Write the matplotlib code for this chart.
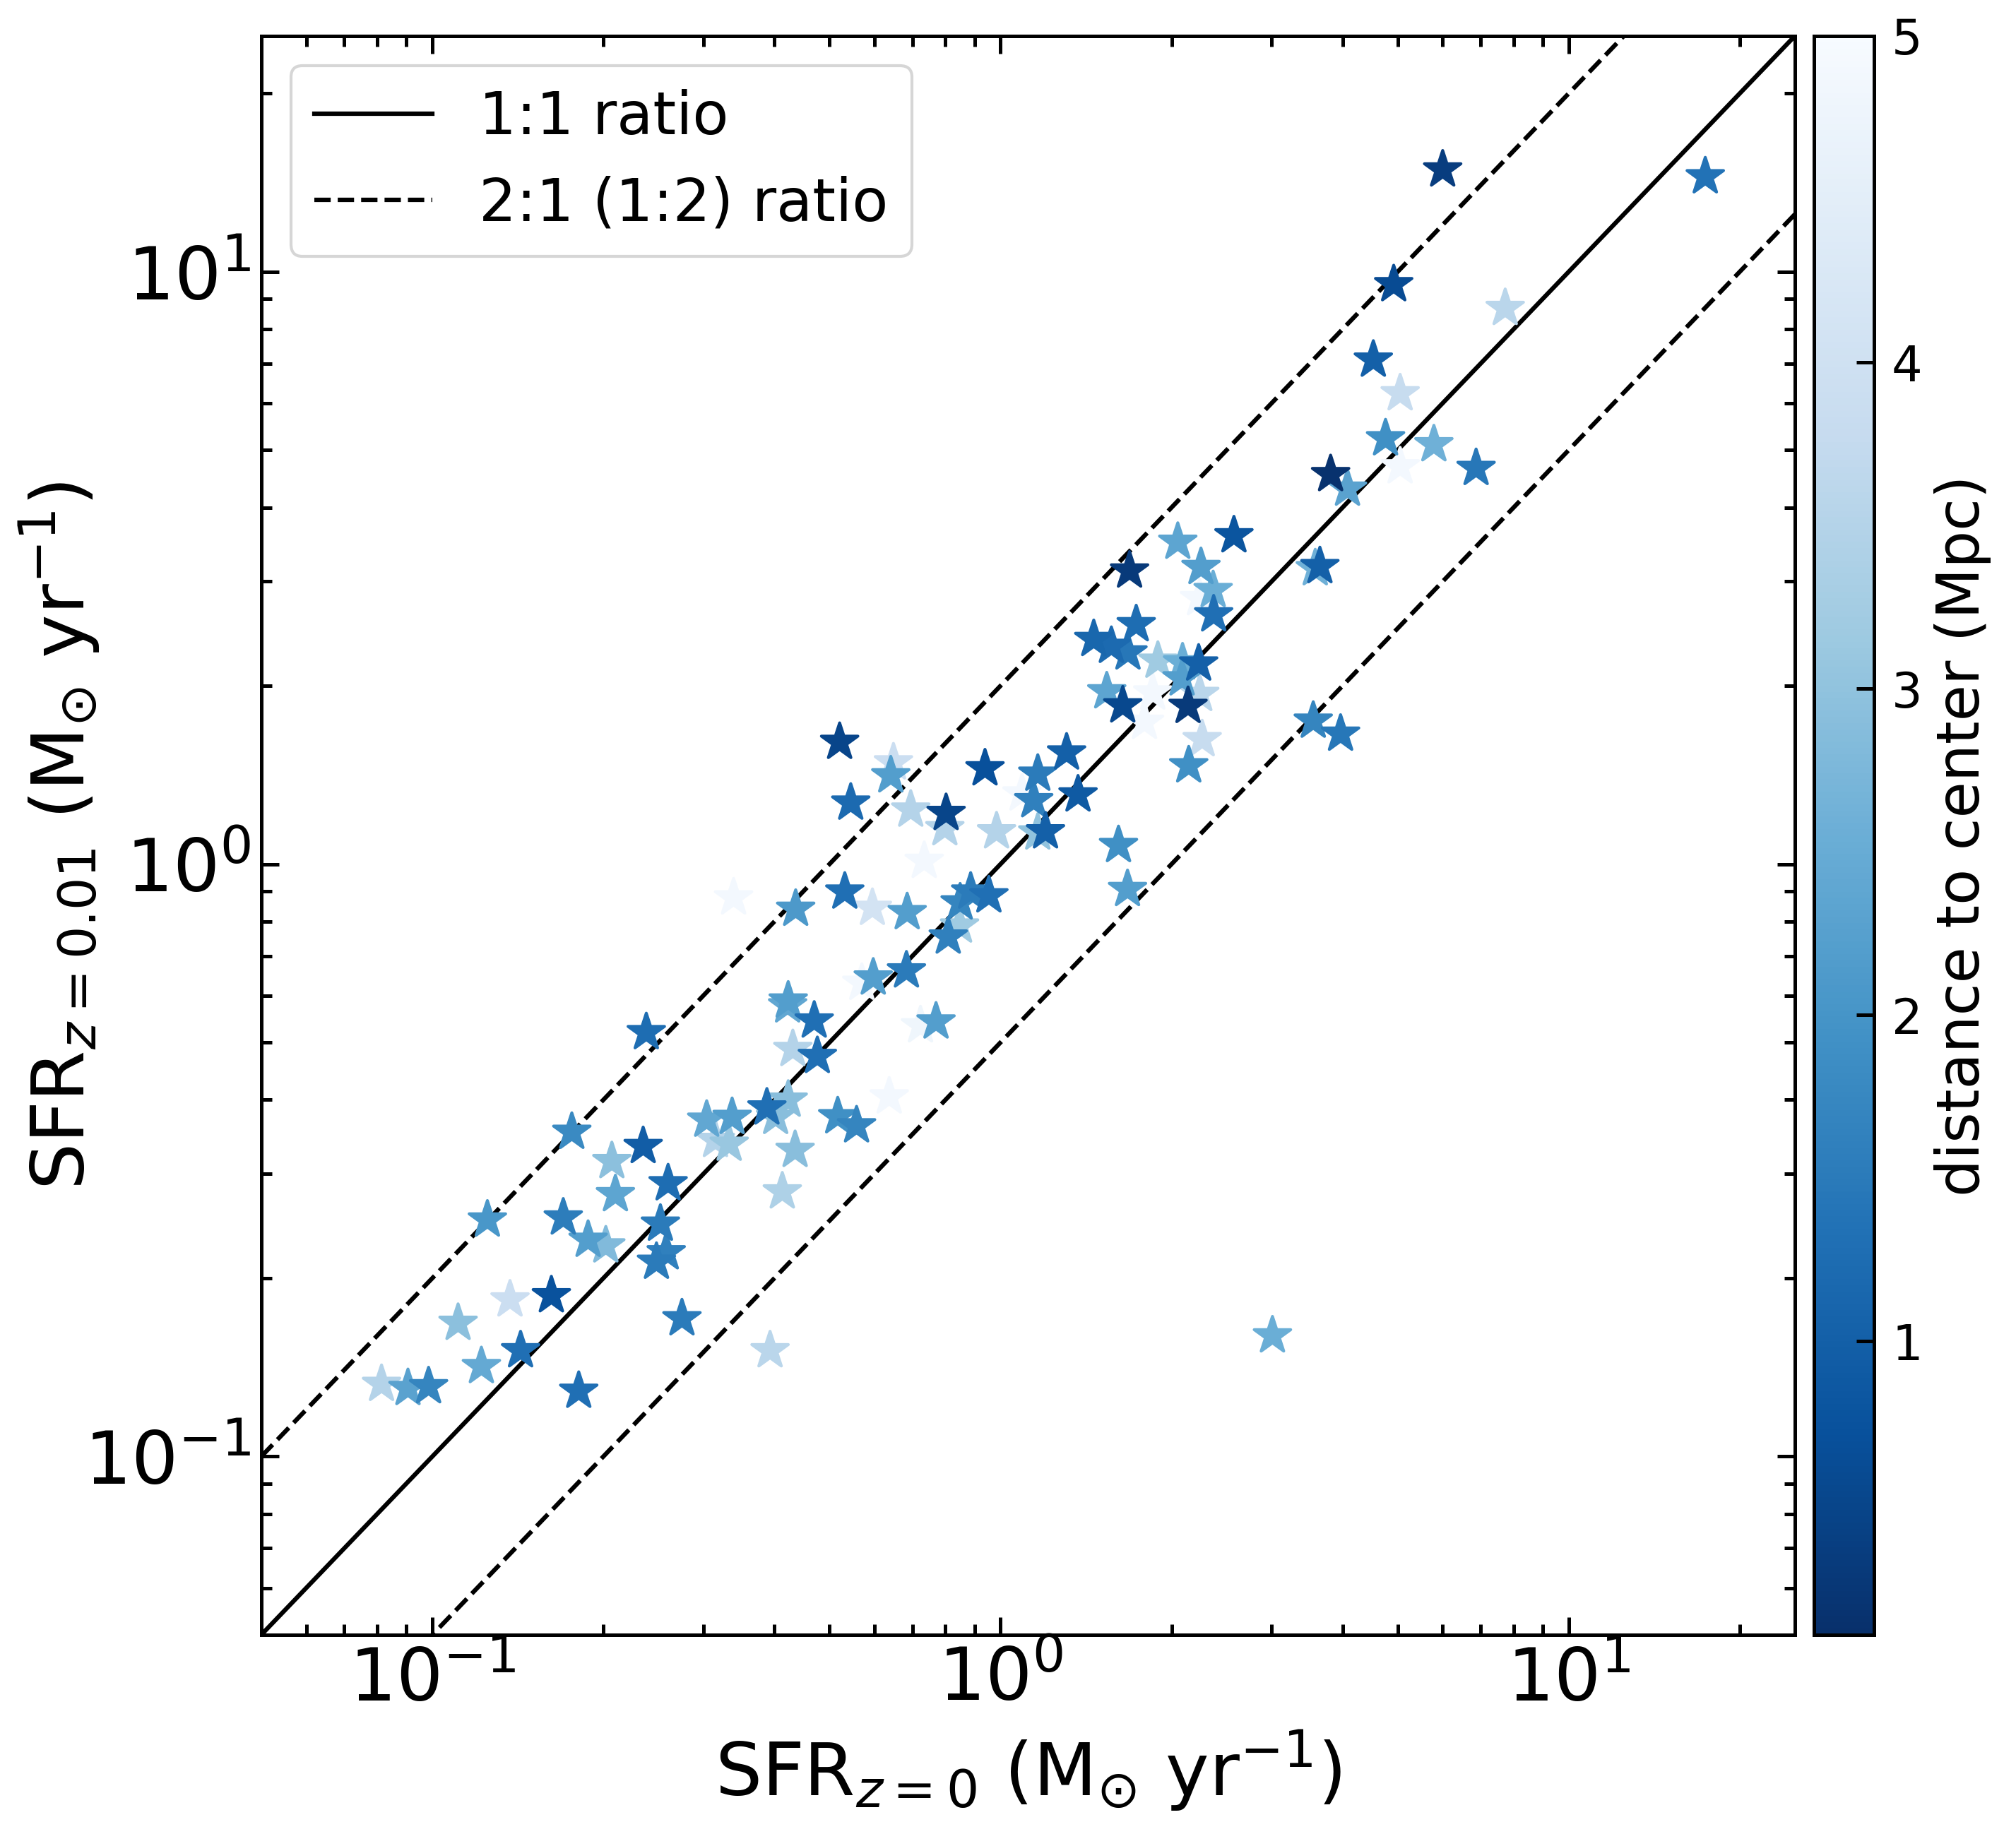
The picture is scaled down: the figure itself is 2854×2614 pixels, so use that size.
import numpy as np
import matplotlib
matplotlib.use("Agg")
import matplotlib.pyplot as plt
from matplotlib.colors import Normalize

# ---- data ----
sfr_z0 = [0.238, 0.176, 0.207, 0.235, 0.210, 0.260, 0.125, 0.170, 0.252, 0.188,
          0.202, 0.258, 0.248, 0.137, 0.162, 0.111, 0.143, 0.122, 0.0814, 0.0906,
          0.0985, 0.181, 0.275, 0.521, 0.648, 0.641, 0.545, 0.695, 0.802, 0.798,
          0.939, 0.984, 1.163, 1.307, 1.144, 1.200, 1.163, 1.369, 1.091, 0.734,
          0.339, 0.436, 0.532, 0.595, 0.685, 0.886, 0.954, 0.849, 0.847, 0.809,
          0.683, 0.597, 0.570, 0.423, 0.422, 0.470, 0.431, 0.476, 0.770, 0.723,
          0.637, 0.517, 0.558, 0.388, 0.423, 0.402, 0.337, 0.304, 0.315, 0.333,
          0.435, 0.413, 0.393, 2.575, 2.051, 1.687, 2.253, 2.367, 2.240, 2.372,
          3.648, 3.580, 1.733, 1.459, 1.567, 1.676, 1.892, 2.091, 2.232, 2.087,
          2.242, 1.853, 1.538, 1.641, 2.138, 1.792, 2.264, 2.144, 3.551, 3.967,
          1.613, 1.673, 6.00, 17.39, 4.92, 7.73, 4.53, 5.05, 4.76, 5.79,
          5.05, 6.87, 3.81, 4.08, 3.01]

sfr_z001 = [0.520, 0.353, 0.315, 0.334, 0.277, 0.289, 0.251, 0.253, 0.247, 0.232,
            0.227, 0.221, 0.213, 0.184, 0.187, 0.168, 0.151, 0.142, 0.1325, 0.1304,
            0.1313, 0.129, 0.171, 1.607, 1.484, 1.411, 1.269, 1.235, 1.219, 1.149,
            1.450, 1.135, 1.420, 1.542, 1.281, 1.135, 1.130, 1.310, 1.315, 1.012,
            0.878, 0.840, 0.898, 0.843, 0.829, 0.898, 0.885, 0.861, 0.787, 0.754,
            0.661, 0.643, 0.630, 0.588, 0.577, 0.544, 0.487, 0.474, 0.542, 0.534,
            0.405, 0.375, 0.362, 0.388, 0.400, 0.374, 0.374, 0.370, 0.342, 0.337,
            0.329, 0.280, 0.151, 3.587, 3.498, 3.128, 3.171, 2.899, 2.810, 2.638,
            3.182, 3.156, 2.539, 2.397, 2.334, 2.275, 2.203, 2.189, 2.179, 2.057,
            1.936, 1.947, 1.956, 1.852, 1.848, 1.737, 1.624, 1.467, 1.745, 1.659,
            1.076, 0.907, 14.87, 14.48, 9.52, 8.68, 7.10, 6.23, 5.23, 5.11,
            4.69, 4.66, 4.55, 4.30, 0.160]

distance = [1.25, 1.8, 2.95, 0.95, 2.35, 1.25, 2.05, 1.55, 1.5, 2.2,
            2.8, 1.6, 1.5, 3.9, 0.75, 2.95, 1.3, 2.45, 3.5, 2.3,
            1.7, 1.3, 1.5, 0.5, 3.9, 2.2, 1.2, 3.5, 0.5, 3.5,
            0.7, 3.5, 1.5, 1.0, 1.6, 1.0, 3.0, 0.9, 4.9, 4.9,
            4.9, 2.1, 1.3, 4.1, 2.2, 1.5, 1.3, 1.7, 3.2, 1.6,
            1.5, 2.2, 4.9, 2.2, 2.4, 1.3, 3.5, 1.3, 2.2, 4.8,
            4.9, 1.9, 1.7, 1.3, 2.9, 2.9, 2.2, 2.4, 3.5, 3.1,
            2.9, 3.4, 3.6, 0.8, 2.35, 0.3, 2.2, 2.55, 4.9, 1.3,
            1.0, 2.6, 1.25, 1.15, 1.2, 1.45, 3.2, 2.55, 1.0, 2.2,
            3.6, 4.9, 2.35, 0.55, 0.3, 4.9, 3.8, 1.9, 1.7, 1.45,
            1.9, 2.2, 0.35, 1.35, 0.6, 3.6, 1.0, 3.8, 1.9, 2.6,
            4.9, 1.45, 0.15, 2.3, 2.55]

axis_limits = [0.05, 25]
cbar_range = [0.1, 5.0]

# ---- figure ----
fig = plt.figure(figsize=(2854 / 300, 2614 / 300), dpi=300)
ax = fig.add_axes([0.1296, 0.1144, 0.7607, 0.8661])
cax = fig.add_axes([0.8998, 0.1144, 0.0298, 0.8661])

x = np.array(sfr_z0)
y = np.array(sfr_z001)
d = np.array(distance)
order = np.argsort(-d, kind="stable")

norm = Normalize(vmin=cbar_range[0], vmax=cbar_range[1])
sc = ax.scatter(x[order], y[order], c=d[order], cmap="Blues_r", norm=norm,
                marker="*", s=170, zorder=3)

lim = np.array(axis_limits)
ax.plot(lim, lim, color="k", lw=1.5, ls="-", label="1:1 ratio", zorder=2)
ax.plot(lim, 2 * lim, color="k", lw=1.5, ls="--", label="2:1 (1:2) ratio", zorder=2)
ax.plot(lim, 0.5 * lim, color="k", lw=1.5, ls="--", zorder=2)

ax.set_xscale("log")
ax.set_yscale("log")
ax.set_xlim(axis_limits)
ax.set_ylim(axis_limits)

ax.set_xlabel(r"SFR$_{z=0}$ (M$_{\odot}$ yr$^{-1}$)", fontsize=25)
ax.set_ylabel(r"SFR$_{z=0.01}$ (M$_{\odot}$ yr$^{-1}$)", fontsize=25, labelpad=-6)

ax.tick_params(which="both", direction="in", top=True, right=True,
               labelsize=25, width=1.2)
ax.tick_params(which="major", length=6)
ax.tick_params(which="minor", length=3.5)
for sp in ax.spines.values():
    sp.set_linewidth(1.2)

ax.legend(loc="upper left", fontsize=20)

cb = fig.colorbar(sc, cax=cax)
cb.set_label("distance to center (Mpc)", fontsize=20)
cb.ax.tick_params(direction="in", labelsize=16.5, length=6, width=1.2, pad=6)
cb.outline.set_linewidth(1.2)

fig.savefig("out.png", dpi=300)
